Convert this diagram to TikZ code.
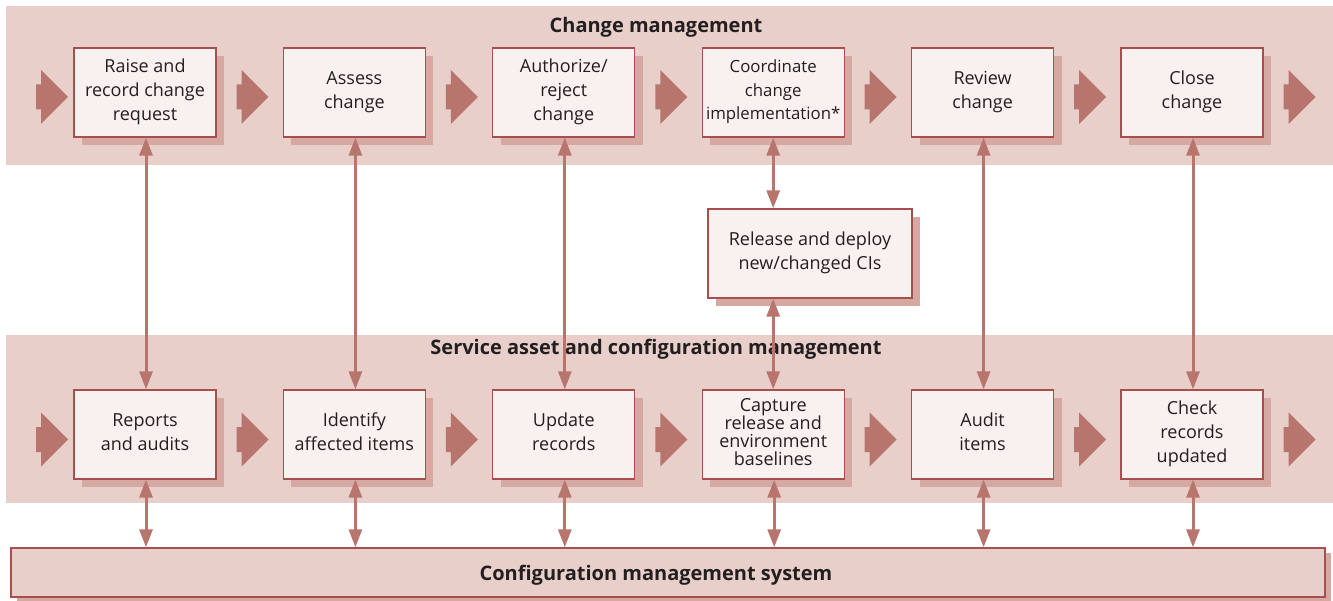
\documentclass[tikz,border=0pt]{standalone}
\usepackage{fontspec}
\setmainfont{Open Sans}
\usetikzlibrary{arrows.meta,shadows}
\definecolor{band}{RGB}{232,207,202}
\definecolor{shd}{RGB}{213,168,162}
\definecolor{chev}{RGB}{184,117,110}
\definecolor{bord}{RGB}{168,78,78}
\definecolor{boxf}{RGB}{249,241,240}
\definecolor{txt}{RGB}{35,31,32}
\begin{document}
\begin{tikzpicture}[x=1pt,y=-1pt,
  stepbox/.style={draw=bord,line width=1.3pt,fill=boxf,minimum width=142pt,minimum height=89pt,
    inner sep=0pt,align=center,text=txt,font=\fontsize{18}{24}\selectfont,
    execute at begin node={\rule{0pt}{18pt}},execute at end node={\rule[-5pt]{0pt}{5pt}},
    drop shadow={shadow xshift=8pt,shadow yshift=-8pt,fill=shd,opacity=1}},
  title/.style={font=\fontsize{20}{24}\selectfont\bfseries,text=txt,inner sep=0pt,anchor=base},
  conn/.style={draw=chev,line width=3pt,{Triangle[width=13pt,length=18pt]}-{Triangle[width=13pt,length=18pt]}},
  chevron/.style={fill=chev}
]
\useasboundingbox (0,0) rectangle (1333,601);
% bands
\fill[band] (6,6) rectangle (1333,165);
\fill[band] (6,335) rectangle (1333,503);
\node[title] (tcm) at (656,32.3) {Change management};
\node[title] (tsacm) at (656,355) {Service asset and configuration management};
% chevrons
\foreach \c in {97,439.5}{
  \foreach \x in {36,236.5,445.9,655.3,864.7,1074.1,1283.5}{
    \fill[chevron] (\x,\c-12.5) -- (\x+5,\c-12.5) -- (\x+5,\c-27) -- (\x+32,\c) -- (\x+5,\c+27) -- (\x+5,\c+12.5) -- (\x,\c+12.5) -- cycle;
  }
}
% top row
\node[stepbox] (t1) at (145,92.5) {Raise and\\record change\\request};
\node[stepbox] (t2) at (354.4,92.5) {Assess\\change};
\node[stepbox] (t3) at (563.8,92.5) {Authorize/\\reject\\change};
\node[stepbox,font=\fontsize{16.8}{23.5}\selectfont] (t4) at (773.2,92.5) {Coordinate\\change\\implementation*};
\node[stepbox] (t5) at (982.6,92.5) {Review\\change};
\node[stepbox] (t6) at (1192,92.5) {Close\\change};
% release box
\node[stepbox,minimum width=204pt] (rel) at (810,253.5) {Release and deploy\\new/changed CIs};
% bottom row
\node[stepbox] (b1) at (145,434.5) {Reports\\and audits};
\node[stepbox] (b2) at (354.4,434.5) {Identify\\affected items};
\node[stepbox] (b3) at (563.8,434.5) {Update\\records};
\node[stepbox,font=\fontsize{18}{18.3}\selectfont] (b4) at (773.2,434.5) {Capture\\release and\\environment\\baselines};
\node[stepbox] (b5) at (982.6,434.5) {Audit\\items};
\node[stepbox] (b6) at (1192,434.5) {Check\\records\\updated};
% CMS
\node[draw=bord,fill=band,line width=1.3pt,minimum width=1314pt,minimum height=49pt,inner sep=0pt,
  drop shadow={shadow xshift=6pt,shadow yshift=-5pt,fill=shd,opacity=1}] (cms) at (668,572.5) {};
\node[title] (cmslabel) at (656,580) {Configuration management system};
% connectors
\foreach \i in {1,2,3,5,6}{
  \draw[conn] ([xshift=1pt]t\i.south) -- ([xshift=1pt]b\i.north);
}
\draw[conn] (t4.south) -- (t4.south |- rel.north);
\draw[conn] (b4.north |- rel.south) -- (b4.north);
\foreach \i in {1,...,6}{
  \draw[conn] ([xshift=1pt]b\i.south) -- ([xshift=1pt]b\i.south |- cms.north);
}
\end{tikzpicture}
\end{document}
